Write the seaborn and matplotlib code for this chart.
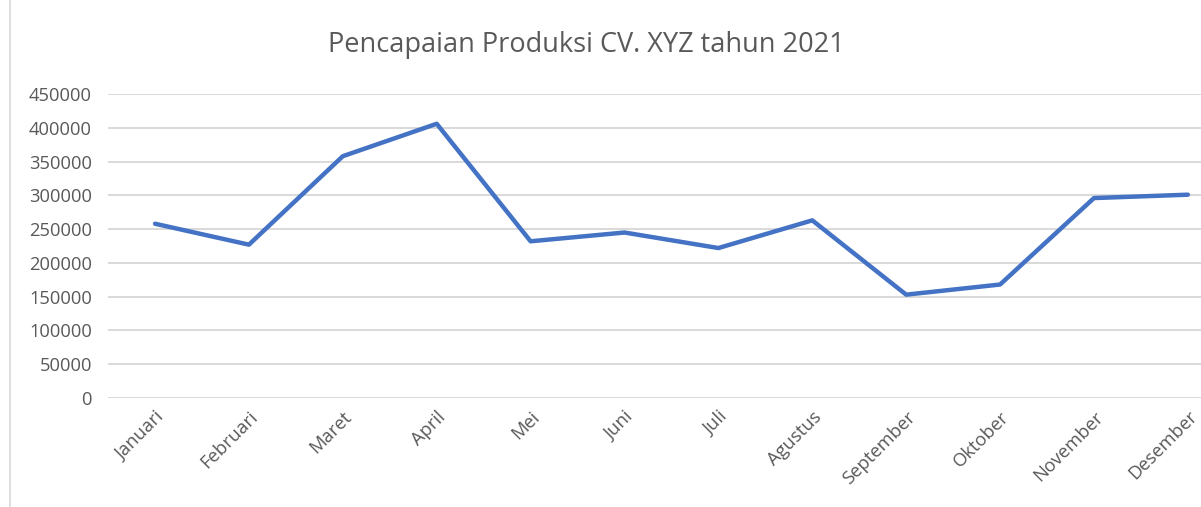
import matplotlib
matplotlib.use("Agg")
import matplotlib.pyplot as plt
from matplotlib.lines import Line2D
import pandas as pd
import seaborn as sns

months = ["Januari", "Februari", "Maret", "April", "Mei", "Juni",
          "Juli", "Agustus", "September", "Oktober", "November", "Desember"]
produksi = [258000, 227000, 358000, 406000, 232000, 245000,
            222000, 263000, 153000, 168000, 296000, 301000]
yticks = [0, 50000, 100000, 150000, 200000, 250000, 300000, 350000, 400000, 450000]

df = pd.DataFrame({"bulan": months, "produksi": produksi})

sns.set_style("white")
plt.rcParams["font.family"] = ["Open Sans", "DejaVu Sans"]

fig = plt.figure(figsize=(12.01, 5.07), dpi=100)
ax = fig.add_axes([0.09, 0.215, 0.91, 0.5995])

sns.lineplot(data=df, x="bulan", y="produksi", color="#4472C4",
             linewidth=3.2, ax=ax, sort=False)

ax.set_ylim(0, 450000)
ax.set_xlim(-0.5, 11.14)
ax.set_yticks(yticks)
ax.set_yticklabels([str(v) for v in yticks])
ax.yaxis.grid(True, color="#D9D9D9", linewidth=1.4)
ax.set_axisbelow(True)
for s in ax.spines.values():
    s.set_visible(False)

ax.tick_params(axis="y", length=0, pad=11.5, labelsize=13.2, labelcolor="#595959")
ax.tick_params(axis="x", length=0, pad=7, labelsize=13.2, labelcolor="#595959")
plt.setp(ax.get_xticklabels(), rotation=45, ha="right", rotation_mode="anchor")
ax.set_xlabel("")
ax.set_ylabel("")

fig.text(0.488, 0.911, "Pencapaian Produksi CV. XYZ tahun 2021",
         ha="center", va="center", fontsize=19.5, color="#595959")

# chart border on the left
fig.add_artist(Line2D([10 / 1201, 10 / 1201], [0.0, 1.0],
                      transform=fig.transFigure, color="#D9D9D9", linewidth=1.2))

fig.savefig("out.png", dpi=100)
